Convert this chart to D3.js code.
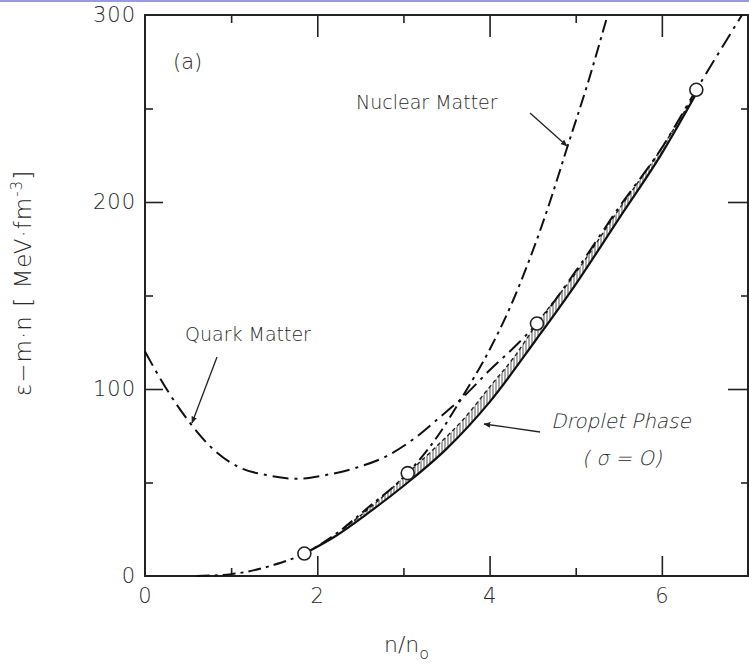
<!DOCTYPE html>
<html>
<head>
<meta charset="utf-8">
<script src="https://cdn.jsdelivr.net/npm/d3@7"></script>
<style>
  body { margin: 0; background: #fff; }
  text { font-family: "DejaVu Sans", "Liberation Sans", sans-serif; fill: #2a2a2a; font-weight: 300; }
  .tick line { stroke: #222; stroke-width: 1.6; }
</style>
</head>
<body>
<svg id="viewer" width="749" height="668"></svg>
<script>
// values (x = n/n0, y = MeV fm^-3)
var quarkX = [0, 0.25, 0.52, 0.81, 1.1, 1.41, 1.76, 2.1, 2.46, 2.8, 3.11, 3.4, 3.7, 4.0, 4.3, 4.55, 5.0, 5.5, 6.0, 6.4, 6.93];
var quarkY = [120, 100, 82, 67, 58, 54, 52, 54, 58, 64, 73, 84, 96, 110, 123, 135, 163, 197, 229, 260, 300];

var nuclearX = [0.6, 1.0, 1.5, 1.85, 2.2, 2.6, 3.05, 3.4, 3.7, 4.0, 4.26, 4.47, 4.7, 4.9, 5.15, 5.37];
var nuclearY = [0, 1, 6, 12, 22, 37, 55, 75, 97, 121, 146, 170, 200, 229, 265, 300];

var dropletX = [1.85, 2.2, 2.6, 3.05, 3.5, 4.0, 4.55, 5.0, 5.5, 6.0, 6.4];
var dropletY = [12, 21, 34, 50, 68, 93, 127, 156, 191, 226, 258];

var bandX = [2.3, 2.7, 3.05, 3.4, 3.7, 4.0, 4.3, 4.55, 5.0, 5.5, 6.0, 6.4];
var bandLow = [24, 38, 50, 64, 77, 93, 111, 127, 156, 191, 226, 258];
var bandHigh = [25, 40, 55, 70, 84, 101, 118, 135, 162, 196, 229, 259];

var circleX = [1.85, 3.05, 4.55, 6.4];
var circleY = [12, 55, 135, 260];

var xLabelTicks = [0, 2, 4, 6];
var xMajor = [2, 4, 6];
var xMinor = [1, 3, 5];
var yLabelTicks = [0, 100, 200, 300];
var yMajor = [100, 200];
var yMinor = [50, 150, 250];

var svg = d3.select('#viewer');

// scanner strip at the very top
svg.append('rect').attr('x', 0).attr('y', 0).attr('width', 749).attr('height', 2).attr('fill', '#9a9ae0');

var x = d3.scaleLinear().domain([0, 7]).range([145, 748]);
var y = d3.scaleLinear().domain([0, 300]).range([576, 15]);

var defs = svg.append('defs');
var pat = defs.append('pattern')
    .attr('id', 'hatch')
    .attr('width', 3).attr('height', 12)
    .attr('patternUnits', 'userSpaceOnUse');
pat.append('line')
    .attr('x1', 1).attr('y1', 0).attr('x2', 1).attr('y2', 12)
    .attr('stroke', '#666').attr('stroke-width', 1.1);

defs.append('marker')
    .attr('id', 'head')
    .attr('viewBox', '0 0 10 10')
    .attr('refX', 9).attr('refY', 5)
    .attr('markerWidth', 7).attr('markerHeight', 7)
    .attr('markerUnits', 'userSpaceOnUse')
    .attr('orient', 'auto')
    .append('path')
    .attr('d', 'M0,1 L10,5 L0,9 Z')
    .attr('fill', '#222');

// ticks (inward) with d3 axes
function tickAxis(axis, scale, vals, size, transform) {
    var g = svg.append('g')
        .attr('transform', transform)
        .call(axis(scale).tickValues(vals).tickSize(-size).tickFormat(''));
    g.select('.domain').remove();
}
tickAxis(d3.axisBottom, x, xMajor, 20, 'translate(0,576)');
tickAxis(d3.axisBottom, x, xMinor, 8, 'translate(0,576)');
tickAxis(d3.axisTop, x, xMajor, 22, 'translate(0,15)');
tickAxis(d3.axisTop, x, xMinor, 8, 'translate(0,15)');
tickAxis(d3.axisLeft, y, yMajor, 18, 'translate(145,0)');
tickAxis(d3.axisLeft, y, yMinor, 8, 'translate(145,0)');
tickAxis(d3.axisRight, y, yMajor, 20, 'translate(748,0)');
tickAxis(d3.axisRight, y, yMinor, 7, 'translate(748,0)');

// tick labels
var xl = svg.append('g')
    .attr('transform', 'translate(0,576)')
    .call(d3.axisBottom(x).tickValues(xLabelTicks).tickSize(0).tickPadding(12).tickFormat(d3.format('d')));
xl.select('.domain').remove();
xl.selectAll('text').attr('font-size', 21).attr('letter-spacing', 1).style('font-family', '"DejaVu Sans", sans-serif').attr('fill', '#3a3a3a');

var yl = svg.append('g')
    .attr('transform', 'translate(145,0)')
    .call(d3.axisLeft(y).tickValues(yLabelTicks).tickSize(0).tickPadding(9).tickFormat(d3.format('d')));
yl.select('.domain').remove();
yl.selectAll('text').attr('font-size', 21).attr('letter-spacing', 1).style('font-family', '"DejaVu Sans", sans-serif').attr('fill', '#3a3a3a');

// frame
svg.append('path')
    .attr('d', `M${x(0)},${y(0)} V${y(300)} H${x(7)} V${y(0)} Z`)
    .attr('fill', 'none')
    .attr('stroke', '#222')
    .attr('stroke-width', 2);

// hatched droplet band
var band = d3.area()
    .x((d, i) => x(bandX[i]))
    .y0((d, i) => y(bandLow[i]))
    .y1((d, i) => y(bandHigh[i]))
    .curve(d3.curveMonotoneX);
svg.append('path')
    .attr('d', band(bandX))
    .attr('fill', 'url(#hatch)')
    .attr('stroke', 'none');

var lineOf = (xs, ys) => d3.line()
    .x((d, i) => x(xs[i]))
    .y((d, i) => y(ys[i]))
    .curve(d3.curveMonotoneX)(xs);

// upper edge of the band, dashed
svg.append('path')
    .attr('d', lineOf(bandX, bandHigh))
    .attr('fill', 'none')
    .attr('stroke', '#222')
    .attr('stroke-width', 1.4)
    .attr('stroke-dasharray', '4,3');

// droplet phase (solid)
svg.append('path')
    .attr('d', lineOf(dropletX, dropletY))
    .attr('fill', 'none')
    .attr('stroke', '#111')
    .attr('stroke-width', 2.2);

// nuclear matter
svg.append('path')
    .attr('d', lineOf(nuclearX, nuclearY))
    .attr('fill', 'none')
    .attr('stroke', '#111')
    .attr('stroke-width', 2)
    .attr('stroke-dasharray', '13,5,3,5');

// quark matter
svg.append('path')
    .attr('d', lineOf(quarkX, quarkY))
    .attr('fill', 'none')
    .attr('stroke', '#111')
    .attr('stroke-width', 2)
    .attr('stroke-dasharray', '16,6,3,6');

// open circles
svg.selectAll('circle.pt')
    .data(circleX)
    .enter()
    .append('circle')
    .attr('class', 'pt')
    .attr('cx', d => x(d))
    .attr('cy', (d, i) => y(circleY[i]))
    .attr('r', 6.5)
    .attr('fill', '#fff')
    .attr('stroke', '#222')
    .attr('stroke-width', 1.6);

// annotations
function arrow(x1, y1, x2, y2) {
    svg.append('line')
        .attr('x1', x1).attr('y1', y1).attr('x2', x2).attr('y2', y2)
        .attr('stroke', '#222').attr('stroke-width', 1.3)
        .attr('marker-end', 'url(#head)');
}

svg.append('text').attr('x', 173).attr('y', 69).attr('font-size', 21).text('(a)');

svg.append('text').attr('x', 356).attr('y', 109).attr('font-size', 19).text('Nuclear Matter');
arrow(530, 113, 567, 146);

svg.append('text').attr('x', 185).attr('y', 341).attr('font-size', 19).text('Quark Matter');
arrow(217, 357, 192, 423);

// light slanted text (skewed so the thin face is kept)
svg.append('text').attr('transform', 'translate(551,428) skewX(-13)').attr('font-size', 20)
    .text('Droplet Phase');
svg.append('text').attr('transform', 'translate(582,465) skewX(-13)').attr('font-size', 20)
    .text('( σ = O)');
arrow(540, 432, 484, 424);

// axis titles
svg.append('text')
    .attr('transform', 'translate(31,283) rotate(-90)')
    .attr('text-anchor', 'middle')
    .attr('font-size', 23)
    .attr('letter-spacing', 1)
    .html('ε−m·n [ MeV·fm<tspan dy="-9" font-size="15">-3</tspan><tspan dy="9">]</tspan>');

svg.append('text')
    .attr('x', 384).attr('y', 652)
    .attr('font-size', 22)
    .html('n/n<tspan dy="7" font-size="16">o</tspan>');
</script>
</body>
</html>
